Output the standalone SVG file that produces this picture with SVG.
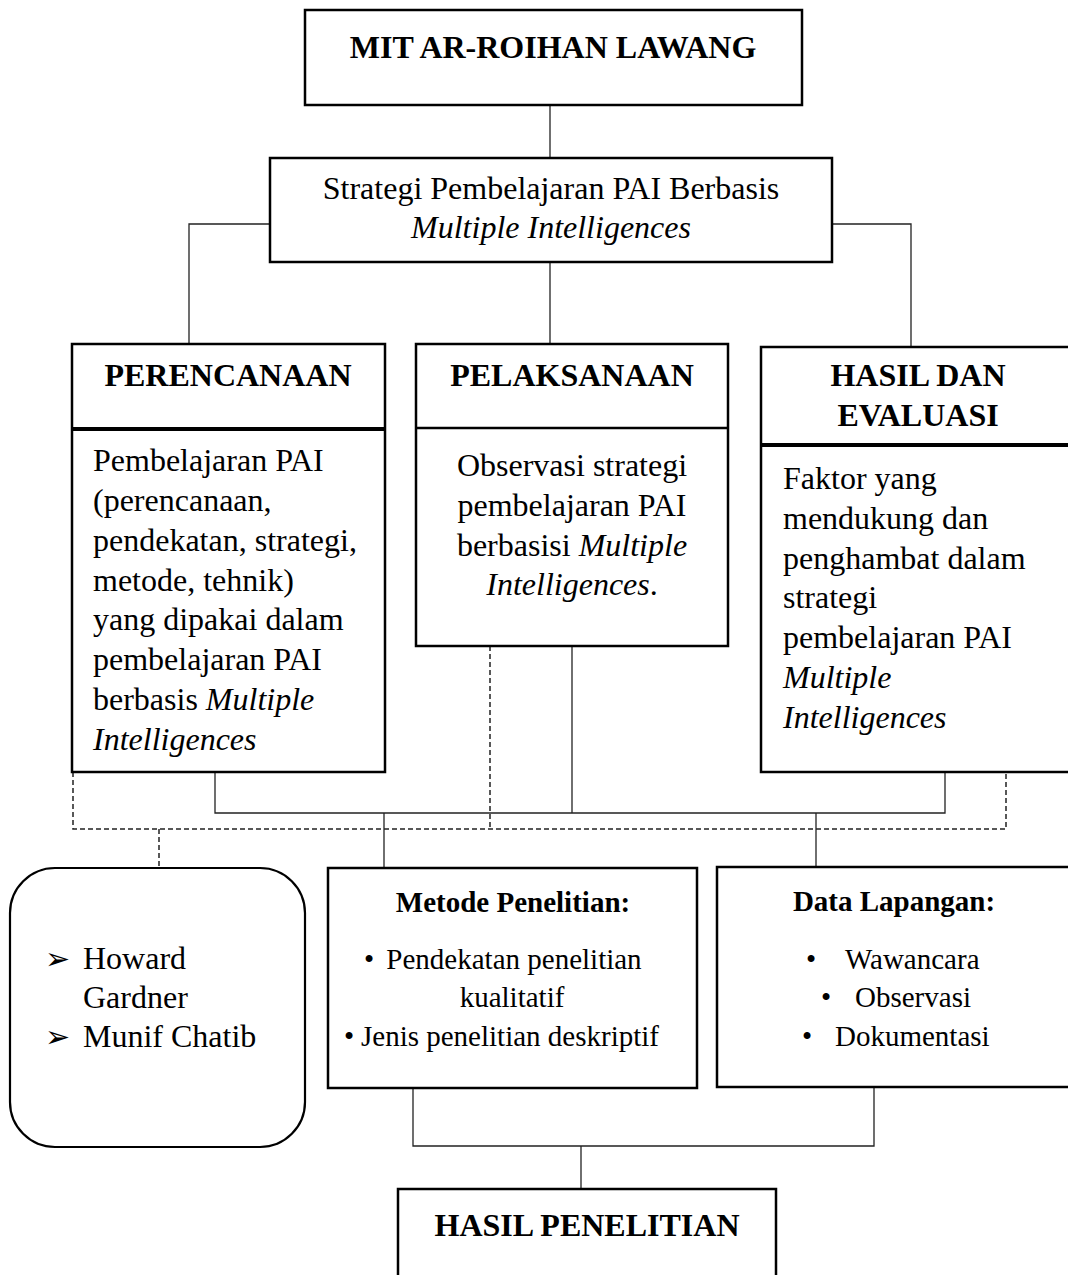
<svg xmlns="http://www.w3.org/2000/svg" width="1068" height="1275" viewBox="0 0 1068 1275">
<style>
.box{fill:#fff;stroke:#000;stroke-width:2.5}
.div{stroke:#000;stroke-width:2.5}
.divt{stroke:#000;stroke-width:4}
.c{fill:none;stroke:#222;stroke-width:1.3}
.d{fill:none;stroke:#222;stroke-width:1.5;stroke-dasharray:5,3}
text{font-family:"Liberation Serif","Times New Roman",serif;fill:#000}
.t{font-size:32px}
.tb{font-size:32px;font-weight:bold}
.s{font-size:29px}
.sb{font-size:29px;font-weight:bold}
.i{font-style:italic}
.m{text-anchor:middle}
.sym{font-family:"DejaVu Sans",sans-serif;font-size:30px}
</style>
<rect width="1068" height="1275" fill="#fff"/>
<g id="connectors">
<line class="c" x1="550" y1="99" x2="550" y2="158"/>
<polyline class="c" points="270,224 189,224 189,345"/>
<polyline class="c" points="832,224 911,224 911,347"/>
<line class="c" x1="550" y1="262" x2="550" y2="344"/>
<polyline class="c" points="215,772 215,813 945,813 945,772"/>
<line class="c" x1="572" y1="646" x2="572" y2="813"/>
<line class="c" x1="384" y1="813" x2="384" y2="868"/>
<line class="c" x1="816" y1="813" x2="816" y2="868"/>
<polyline class="d" points="73,772 73,829 1006,829 1006,772"/>
<line class="d" x1="490" y1="646" x2="490" y2="829"/>
<line class="d" x1="159" y1="829" x2="159" y2="868"/>
<polyline class="c" points="413,1088 413,1146 874,1146 874,1087"/>
<line class="c" x1="581" y1="1146" x2="581" y2="1189"/>
</g>
<g id="node-mit">
<rect class="box" x="305" y="10" width="497" height="95"/>
<text class="tb m" x="553" y="58">MIT AR-ROIHAN LAWANG</text>
</g>
<g id="node-strategi">
<rect class="box" x="270" y="158" width="562" height="104"/>
<text class="t m" x="551" y="199">Strategi Pembelajaran PAI Berbasis</text>
<text class="t m i" x="551" y="238">Multiple Intelligences</text>
</g>
<g id="node-perencanaan">
<rect class="box" x="72" y="344" width="313" height="428"/>
<line class="divt" x1="72" y1="429" x2="385" y2="429"/>
<text class="tb m" x="228" y="386">PERENCANAAN</text>
<text class="t" x="93" y="471">Pembelajaran PAI</text>
<text class="t" x="93" y="511">(perencanaan,</text>
<text class="t" x="93" y="551">pendekatan, strategi,</text>
<text class="t" x="93" y="591">metode, tehnik)</text>
<text class="t" x="93" y="630">yang dipakai dalam</text>
<text class="t" x="93" y="670">pembelajaran PAI</text>
<text class="t" x="93" y="710">berbasis <tspan class="i">Multiple</tspan></text>
<text class="t i" x="93" y="750">Intelligences</text>
</g>
<g id="node-pelaksanaan">
<rect class="box" x="416" y="344" width="312" height="302"/>
<line class="div" x1="416" y1="428" x2="728" y2="428"/>
<text class="tb m" x="572" y="386">PELAKSANAAN</text>
<text class="t m" x="572" y="476">Observasi strategi</text>
<text class="t m" x="572" y="516">pembelajaran PAI</text>
<text class="t m" x="572" y="556">berbasisi <tspan class="i">Multiple</tspan></text>
<text class="t m" x="572" y="595"><tspan class="i">Intelligences</tspan>.</text>
</g>
<g id="node-hasil-evaluasi">
<rect class="box" x="761" y="347" width="310" height="425"/>
<line class="divt" x1="761" y1="445" x2="1071" y2="445"/>
<text class="tb m" x="918" y="386">HASIL DAN</text>
<text class="tb m" x="918" y="426">EVALUASI</text>
<text class="t" x="783" y="489">Faktor yang</text>
<text class="t" x="783" y="529">mendukung dan</text>
<text class="t" x="783" y="569">penghambat dalam</text>
<text class="t" x="783" y="608">strategi</text>
<text class="t" x="783" y="648">pembelajaran PAI</text>
<text class="t i" x="783" y="688">Multiple</text>
<text class="t i" x="783" y="728">Intelligences</text>
</g>
<g id="node-teori">
<rect x="10" y="868" width="295" height="279" rx="45" ry="45" fill="#fff" stroke="#000" stroke-width="2.2"/>
<text class="sym" x="45" y="969">➢</text>
<text class="t" x="83" y="969">Howard</text>
<text class="t" x="83" y="1008">Gardner</text>
<text class="sym" x="45" y="1047">➢</text>
<text class="t" x="83" y="1047">Munif Chatib</text>
</g>
<g id="node-metode">
<rect class="box" x="328" y="868" width="369" height="220"/>
<text class="sb m" x="513" y="912">Metode Penelitian:</text>
<text class="s" x="364" y="969">•</text>
<text class="s m" x="514" y="969">Pendekatan penelitian</text>
<text class="s m" x="512" y="1007">kualitatif</text>
<text class="s" x="344" y="1046">•</text>
<text class="s" x="361" y="1046">Jenis penelitian deskriptif</text>
</g>
<g id="node-data">
<rect class="box" x="717" y="867" width="354" height="220"/>
<text class="sb m" x="894" y="911">Data Lapangan:</text>
<text class="s" x="806" y="969">•</text>
<text class="s" x="845" y="969">Wawancara</text>
<text class="s" x="821" y="1007">•</text>
<text class="s" x="855" y="1007">Observasi</text>
<text class="s" x="802" y="1046">•</text>
<text class="s" x="835" y="1046">Dokumentasi</text>
</g>
<g id="node-hasil-penelitian">
<rect class="box" x="398" y="1189" width="378" height="100"/>
<text class="tb m" x="587" y="1236">HASIL PENELITIAN</text>
</g>
</svg>
